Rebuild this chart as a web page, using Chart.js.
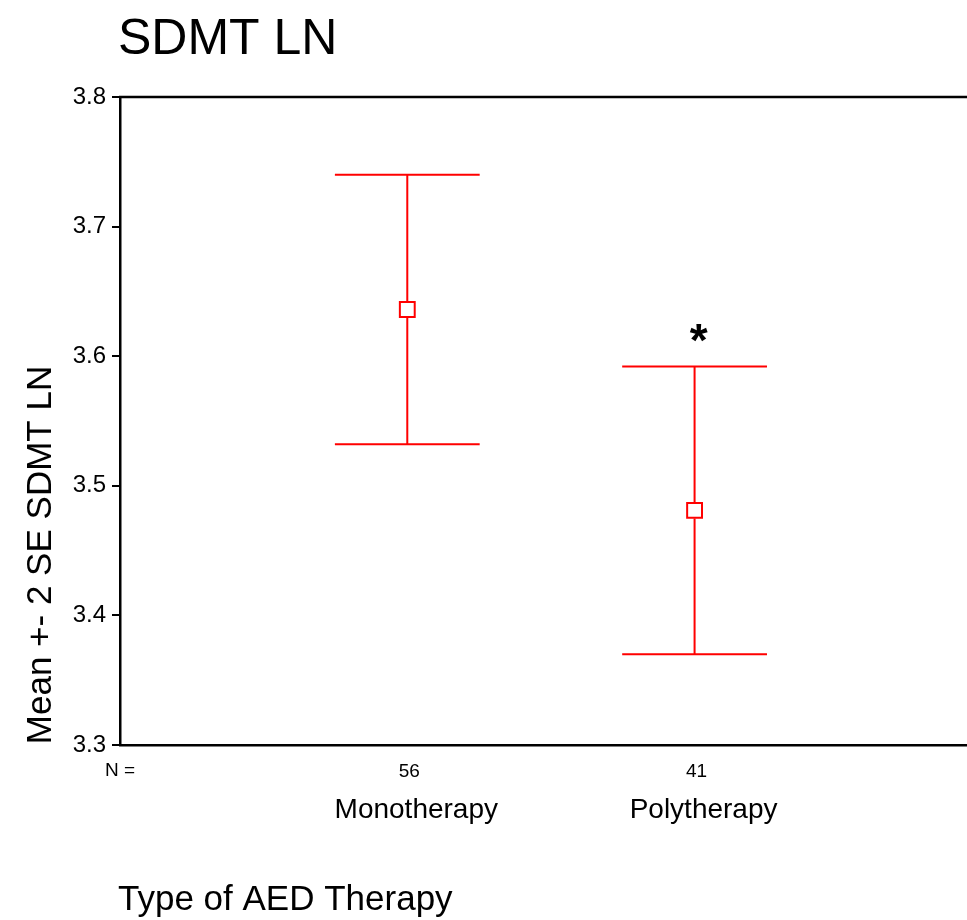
<!DOCTYPE html>
<html>
<head>
<meta charset="utf-8">
<title>SDMT LN</title>
<script src="https://cdn.jsdelivr.net/npm/chart.js@4.4.1/dist/chart.umd.min.js"></script>
<style>
  html, body { margin: 0; padding: 0; background: #fff; overflow: hidden; }
  #wrap { width: 967px; height: 920px; overflow: hidden; }
</style>
</head>
<body>
<div id="wrap"><canvas id="chart" width="980" height="920"></canvas></div>
<script>
// data
const categories = ['Monotherapy', 'Polytherapy'];
const groupN = [56, 41];
const means = [3.636, 3.481];
const upper = [3.740, 3.592];   // mean + 2 SE
const lower = [3.532, 3.370];   // mean - 2 SE
const yTicks = [3.3, 3.4, 3.5, 3.6, 3.7, 3.8];
const starGroup = 1;            // polytherapy flagged with *
const starValue = 3.62;

const RED = '#ff0000';
const FONT = 'Liberation Sans, Arial, Helvetica, sans-serif';

// error bars, axis text and frame drawn on top of the scales
const errorBarPlugin = {
    id: 'errorBars',
    afterDatasetsDraw(chart) {
        const { ctx, scales: { x, y }, chartArea } = chart;
        ctx.save();
        ctx.strokeStyle = RED;
        ctx.lineWidth = 2;
        categories.forEach((c, i) => {
            const px = x.getPixelForValue(i + 1);
            const capL = x.getPixelForValue(i + 1 - 0.252);
            const capR = x.getPixelForValue(i + 1 + 0.252);
            const yTop = y.getPixelForValue(upper[i]);
            const yBot = y.getPixelForValue(lower[i]);
            const yMean = y.getPixelForValue(means[i]);
            ctx.beginPath();
            ctx.moveTo(px, yTop); ctx.lineTo(px, yMean - 8);
            ctx.moveTo(px, yMean + 8); ctx.lineTo(px, yBot);
            ctx.moveTo(capL, yTop); ctx.lineTo(capR, yTop);
            ctx.moveTo(capL, yBot); ctx.lineTo(capR, yBot);
            ctx.stroke();
        });

        // asterisk
        ctx.fillStyle = '#000';
        ctx.font = 'bold 46px ' + FONT;
        ctx.textAlign = 'center';
        ctx.textBaseline = 'alphabetic';
        ctx.fillText('*', x.getPixelForValue(starGroup + 1) + 4, y.getPixelForValue(starValue) + 26);

        // top frame line
        ctx.strokeStyle = '#000';
        ctx.lineWidth = 2.5;
        ctx.beginPath();
        ctx.moveTo(chartArea.left - 1, chartArea.top);
        ctx.lineTo(chartArea.right, chartArea.top);
        ctx.stroke();

        // title
        ctx.textAlign = 'left';
        ctx.font = '50px ' + FONT;
        ctx.fillText('SDMT LN', 118, 54);

        // N row and category names
        ctx.font = '19px ' + FONT;
        ctx.fillText('N =', 105, 776);
        ctx.textAlign = 'center';
        categories.forEach((c, i) => {
            const px = x.getPixelForValue(i + 1);
            ctx.font = '19px ' + FONT;
            ctx.fillText(String(groupN[i]), px + 2, 777);
            ctx.font = '28px ' + FONT;
            ctx.fillText(c, px + 9, 818);
        });

        // axis titles
        ctx.textAlign = 'left';
        ctx.font = '35px ' + FONT;
        ctx.fillText('Type of AED Therapy', 118, 910);

        ctx.translate(51, 555);
        ctx.rotate(-Math.PI / 2);
        ctx.textAlign = 'center';
        ctx.fillText('Mean +- 2 SE SDMT LN', 0, 0);
        ctx.restore();
    }
};

const ctx = document.getElementById('chart').getContext('2d');
new Chart(ctx, {
    type: 'scatter',
    data: {
        datasets: [{
            label: 'Mean',
            data: means.map((m, i) => ({ x: i + 1, y: m })),
            pointStyle: 'rect',
            pointRadius: 10.5,
            pointHoverRadius: 10.5,
            borderColor: RED,
            borderWidth: 2,
            backgroundColor: 'rgba(0,0,0,0)',
            showLine: false
        }]
    },
    options: {
        responsive: false,
        animation: false,
        events: [],
        layout: { padding: { top: 97, right: 0, left: 0, bottom: 0 } },
        plugins: {
            legend: { display: false },
            title: { display: false },
            tooltip: { enabled: false }
        },
        scales: {
            x: {
                type: 'linear',
                min: 0,
                max: 2.95,
                ticks: { display: false },
                grid: { display: false, drawTicks: false },
                border: { display: true, color: '#000', width: 2.5 },
                afterFit: (scale) => { scale.height = 175; }
            },
            y: {
                min: yTicks[0],
                max: yTicks[yTicks.length - 1],
                afterBuildTicks: (scale) => { scale.ticks = yTicks.map(v => ({ value: v })); },
                ticks: {
                    color: '#000',
                    padding: 6,
                    font: { family: FONT, size: 24 },
                    callback: (v) => Number(v).toFixed(1)
                },
                grid: {
                    drawOnChartArea: false,
                    drawTicks: true,
                    tickLength: 8,
                    color: '#000',
                    lineWidth: 2
                },
                border: { display: true, color: '#000', width: 2.5 },
                afterFit: (scale) => { scale.width = 120; }
            }
        }
    },
    plugins: [errorBarPlugin]
});
</script>
</body>
</html>
